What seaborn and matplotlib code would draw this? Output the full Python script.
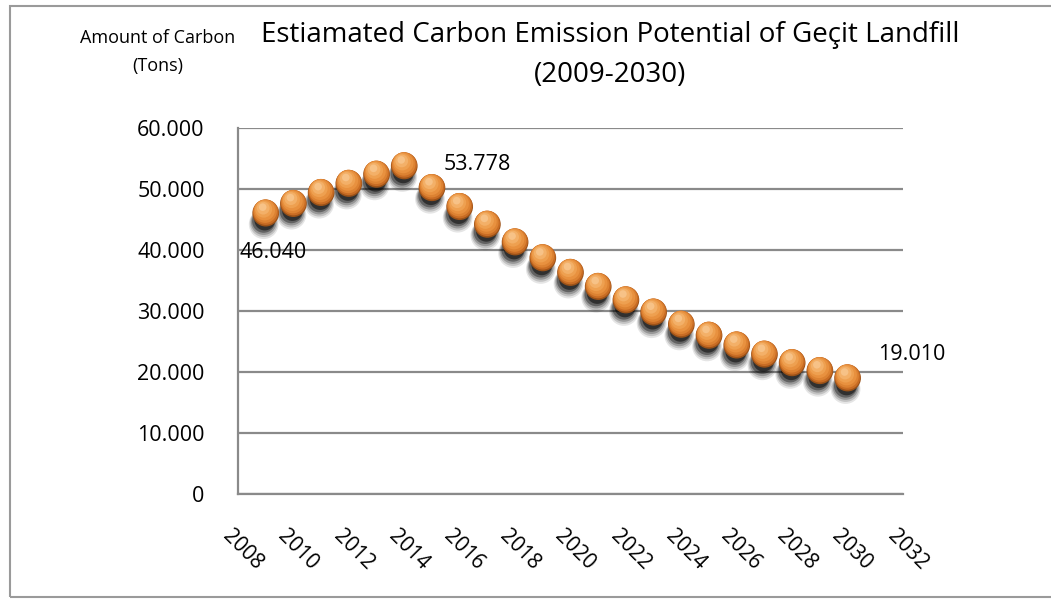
import numpy as np
import pandas as pd
import matplotlib
matplotlib.use("Agg")
import matplotlib.pyplot as plt
from matplotlib.patches import Rectangle
from matplotlib.transforms import offset_copy, ScaledTranslation
from matplotlib.ticker import FuncFormatter, MultipleLocator
import seaborn as sns

# values (tons of carbon)
years = list(range(2009, 2031))
carbon = [46040, 47600, 49400, 50900, 52400, 53778, 50200, 47100, 44200, 41300,
          38700, 36300, 34000, 31800, 29800, 27800, 26000, 24400, 22900, 21500,
          20200, 19010]
labelled_years = [2009, 2014, 2030]

title = "Estiamated Carbon Emission Potential of Geçit Landfill\n(2009-2030)"
ylabel = "Amount of Carbon\n(Tons)"

df = pd.DataFrame({"year": years, "carbon": carbon})

sns.set_style("white")
plt.rcParams["font.family"] = ["Open Sans", "DejaVu Sans"]
plt.rcParams["text.color"] = "black"
plt.rcParams["xtick.color"] = "black"
plt.rcParams["ytick.color"] = "black"

fig = plt.figure(figsize=(10.51, 5.99), dpi=100)
ax = fig.add_axes([238 / 1051, 1 - 494 / 599, 665 / 1051, 366 / 599])

grey = "#8a8a8a"
ax.set_xlim(2008, 2032)
ax.set_ylim(0, 60000)
ax.yaxis.set_major_locator(MultipleLocator(10000))
ax.xaxis.set_major_locator(MultipleLocator(2))
ax.yaxis.grid(True, color=grey, lw=1.6)
ax.set_axisbelow(True)
for s in ["top", "right"]:
    ax.spines[s].set_visible(False)
for s in ["left", "bottom"]:
    ax.spines[s].set_color(grey)
    ax.spines[s].set_linewidth(1.6)

# thousands with a dot, like the original (Turkish locale)
ax.yaxis.set_major_formatter(FuncFormatter(lambda v, p: f"{v:,.0f}".replace(",", ".")))
ax.tick_params(axis="y", length=0, pad=24, labelsize=15.5)
ax.tick_params(axis="x", length=0, pad=23, labelsize=15)
shift = ScaledTranslation(-5 / 100, 0, fig.dpi_scale_trans)
for lab in ax.get_xticklabels():
    lab.set_rotation(-45)
    lab.set_ha("left")
    lab.set_va("top")
    lab.set_rotation_mode("anchor")
    lab.set_transform(lab.get_transform() + shift)

# blurred dark shadow under each ball
for dx, dy, sz, a in [(-2, -11, 460, 0.10), (-2, -10, 400, 0.15), (-2, -9, 340, 0.22),
                      (-2, -8, 280, 0.35), (-1, -7, 220, 0.5)]:
    tr = offset_copy(ax.transData, fig=fig, x=dx, y=dy, units="dots")
    sns.scatterplot(data=df, x="year", y="carbon", ax=ax, s=sz, color="black",
                    alpha=a, edgecolor="none", transform=tr, legend=False, zorder=3)

# layered circles to fake the shaded orange spheres
for dx, dy, sz, c in [(0, 0, 370, "#9c5218"), (0, 1, 335, "#c86c24"),
                      (-0.5, 2, 285, "#dc8232"), (-1, 3, 220, "#e8913f"),
                      (-2, 4, 150, "#eea050"), (-2.5, 5, 85, "#f3b068"),
                      (-3, 6, 30, "#f7c287")]:
    tr = offset_copy(ax.transData, fig=fig, x=dx, y=dy, units="dots")
    sns.scatterplot(data=df, x="year", y="carbon", ax=ax, s=sz, color=c,
                    edgecolor="none", transform=tr, legend=False, zorder=4)

ax.set_xlabel("")
ax.set_ylabel("")

# data labels
offsets = {2009: (7, -39), 2014: (73, 1), 2030: (64, 24)}
for yr in labelled_years:
    v = df.loc[df.year == yr, "carbon"].iloc[0]
    ox, oy = offsets[yr]
    ax.annotate(f"{v:,.0f}".replace(",", "."), (yr, v), xytext=(ox, oy),
                textcoords="offset pixels", ha="center", va="center",
                fontsize=15.5, zorder=6)

fig.text(610 / 1051, 1 - 55 / 599, title, ha="center", va="center",
         fontsize=20, linespacing=1.6)
fig.text(158 / 1051, 1 - 52 / 599, ylabel, ha="center", va="center",
         fontsize=13, linespacing=1.65)

fig.add_artist(Rectangle((10 / 1051, 2 / 599), 1.2, 1 - 8 / 599,
                         transform=fig.transFigure, fill=False,
                         edgecolor="#9a9a9a", lw=1.5))

fig.savefig("out.png", dpi=100)
